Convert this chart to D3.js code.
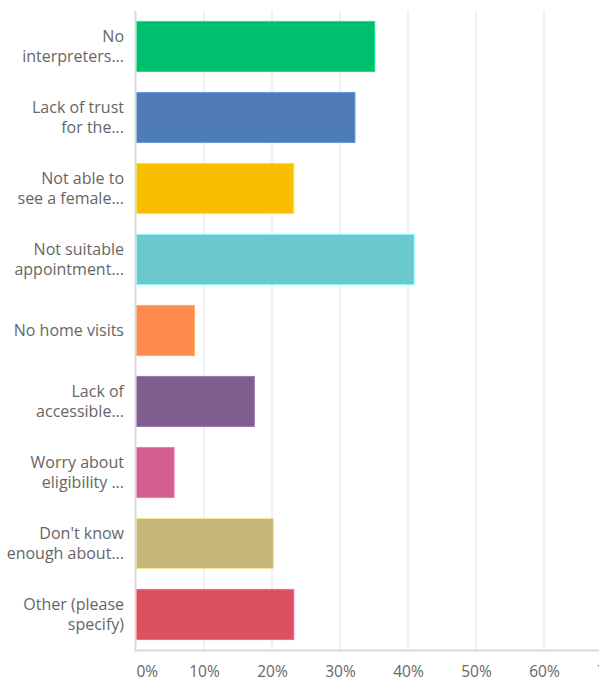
<!DOCTYPE html>
<html>
<head>
<meta charset="utf-8">
<script src="https://cdn.jsdelivr.net/npm/d3@7"></script>
<style>
  html, body { margin: 0; padding: 0; background: #fff; }
  svg { display: block; }
</style>
</head>
<body>
<svg id="chart" width="599" height="683"></svg>
<script>
// Answer choices (wrapped label lines) and share of respondents (%)
const categories = [
  ["No", "interpreters..."],
  ["Lack of trust", "for the..."],
  ["Not able to", "see a female..."],
  ["Not suitable", "appointment..."],
  ["No home visits"],
  ["Lack of", "accessible..."],
  ["Worry about", "eligibility ..."],
  ["Don't know", "enough about..."],
  ["Other (please", "specify)"]
];
const values = [35.1, 32.2, 23.2, 40.9, 8.6, 17.4, 5.6, 20.2, 23.2];
const colors = ["#00bf6f", "#507cb6", "#f9be00", "#6bc8cd", "#ff8b4f",
                "#7f5f90", "#d25f90", "#c7b879", "#dc5060"];
const tickValues = [0, 10, 20, 30, 40, 50, 60, 70];
const tickLabels = ["0%", "10%", "20%", "30%", "40%", "50%", "60%", "70%"];

const svg = d3.select("#chart");
const plotLeft = 136, plotRight = 612, plotTop = 11, plotBottom = 650;
const textColor = "#666";
const fontFamily = "'Open Sans', sans-serif";

const x = d3.scaleLinear().domain([0, 70]).range([plotLeft, plotRight]);
const y = d3.scaleBand()
  .domain(d3.range(categories.length))
  .range([plotTop, plotBottom])
  .paddingInner(0.28)
  .paddingOuter(0.14);

// vertical gridlines
svg.append("g")
  .selectAll("line")
  .data(tickValues.slice(1))
  .join("line")
  .attr("x1", d => x(d)).attr("x2", d => x(d))
  .attr("y1", plotTop).attr("y2", plotBottom)
  .attr("stroke", "#ececec")
  .attr("stroke-width", 1.5);

// bars
svg.append("g")
  .selectAll("rect")
  .data(values)
  .join("rect")
  .attr("x", x(0) + 0.5)
  .attr("y", (d, i) => y(i) + 0.5)
  .attr("width", d => x(d) - x(0) - 0.5)
  .attr("height", y.bandwidth() - 1)
  .attr("fill", (d, i) => colors[i])
  .attr("stroke", (d, i) => d3.color(colors[i]).brighter(0.6))
  .attr("stroke-width", 1);

// left axis line
svg.append("line")
  .attr("x1", plotLeft - 0.5).attr("x2", plotLeft - 0.5)
  .attr("y1", plotTop).attr("y2", plotBottom)
  .attr("stroke", "#d9d9d9").attr("stroke-width", 2);

// bottom axis with percentage labels
const xAxis = d3.axisBottom(x)
  .tickValues(tickValues)
  .tickFormat((d, i) => tickLabels[i])
  .tickSize(0)
  .tickPadding(16);

const gx = svg.append("g")
  .attr("transform", `translate(0,${plotBottom})`)
  .call(xAxis);
gx.select(".domain")
  .attr("d", `M${plotLeft - 1.5},0.5H${599}`)
  .attr("stroke", "#d9d9d9").attr("stroke-width", 2);
gx.selectAll("text")
  .attr("font-family", fontFamily)
  .attr("font-size", 15.5)
  .attr("fill", textColor)
  .attr("text-anchor", (d, i) => i === 0 ? "start" : "middle");

// category labels, right aligned and vertically centred on each bar
const labels = svg.append("g")
  .selectAll("text")
  .data(categories)
  .join("text")
  .attr("text-anchor", "end")
  .attr("font-family", fontFamily)
  .attr("font-size", 16)
  .attr("fill", textColor)
  .attr("transform", (d, i) => `translate(124,${y(i) + y.bandwidth() / 2})`);

const lineH = 20.5;
labels.selectAll("tspan")
  .data(d => d.map((t, j) => ({ t, j, n: d.length })))
  .join("tspan")
  .attr("x", 0)
  .attr("y", d => (d.j - (d.n - 1) / 2) * lineH)
  .attr("dy", "0.35em")
  .text(d => d.t);
</script>
</body>
</html>
